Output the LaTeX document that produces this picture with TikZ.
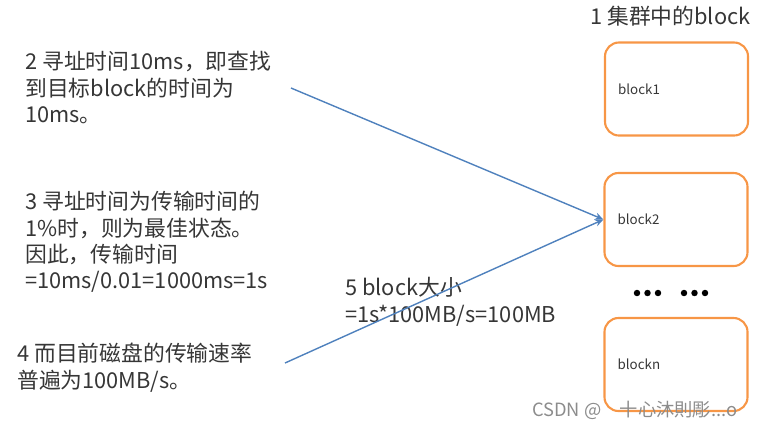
\documentclass[tikz,border=0pt]{standalone}
\usepackage{fontspec}
\setmainfont{Noto Sans CJK SC}
\usetikzlibrary{arrows.meta}

\definecolor{blockorange}{HTML}{F79646}
\definecolor{linkblue}{HTML}{4F81BD}
\definecolor{textgray}{HTML}{363636}
\definecolor{markgray}{HTML}{8C8C8C}

\tikzset{
  blockbox/.style={draw=blockorange, line width=1.5pt, rounded corners=0.35cm,
    minimum width=3.575cm, minimum height=2.325cm, inner xsep=0.33cm,
    text width=2.915cm, align=left, text=textgray, font=\fontsize{9.5}{11}\selectfont},
  note/.style={anchor=north west, align=left, inner sep=0pt, text=textgray,
    font=\fontsize{15.5}{18.8}\selectfont},
  link/.style={draw=linkblue, line width=1pt, -{Stealth[length=6pt,width=5pt]}},
  watermark/.style={anchor=west, inner sep=0pt, text=markgray,
    font=\fontsize{13}{15}\selectfont}
}

\begin{document}
\begin{tikzpicture}[x=0.025cm, y=-0.025cm]
\useasboundingbox (0,0) rectangle (767,429);

% Blocks in the cluster
\node[note] (title) at (590,6) {1 集群中的block};
\node[blockbox] (b1) at (676.5,89) {block1};
\node[blockbox] (b2) at (676,219.5) {block2};
\node[blockbox] (bn) at (676,364.5) {blockn};

% Dots between the blocks
\foreach \x in {637,647.5,658,684,694.5,705}
    \fill (\x,293) circle (2.3pt);

% Notes on the left
\node[note] (seek) at (25,51) {2 寻址时间10ms，即查找\\到目标block的时间为\\10ms。};
\node[note] (best) at (25,191) {3 寻址时间为传输时间的\\1\%时，则为最佳状态。\\因此，传输时间\\=10ms/0.01=1000ms=1s};
\node[note] (rate) at (17,343) {4 而目前磁盘的传输速率\\普遍为100MB/s。};
\node[note] (size) at (345,277) {5 block大小\\=1s*100MB/s=100MB};

% Arrows to block2
\coordinate (s2) at (291,88);
\coordinate (s4) at (285,363);
\draw[link] (s2) -- (b2.west);
\draw[link] (s4) -- (b2.west);

% Watermark
\node[watermark] (wm) at (532,410) {CSDN @\quad 十心沐則彫...o};

\end{tikzpicture}
\end{document}
